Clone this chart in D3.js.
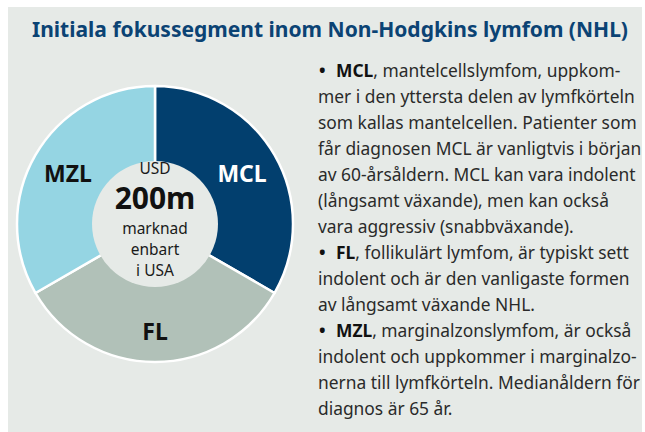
<!DOCTYPE html>
<html>
<head>
<meta charset="utf-8">
<script src="https://cdn.jsdelivr.net/npm/d3@7"></script>
<style>
    html, body { margin: 0; padding: 0; background: #ffffff; }
    svg { display: block; font-family: "Noto Sans", "Open Sans", sans-serif; }
</style>
</head>
<body>
<div id="chart"></div>
<script>
// Chart data
const title = "Initiala fokussegment inom Non-Hodgkins lymfom (NHL)";
const segments = ["MCL", "FL", "MZL"];
const shares = [1, 1, 1];
const segmentColors = ["#023f6e", "#b1c1b8", "#95d5e3"];
const labelColors = ["#ffffff", "#111111", "#111111"];
const centerSmall = ["USD"];
const centerBig = "200m";
const centerBottom = ["marknad", "enbart", "i USA"];

const bulletLabels = ["MCL", "FL", "MZL"];
const bulletFirst = [
    ", mantelcellslymfom, uppkom-",
    ", follikulärt lymfom, är typiskt sett",
    ", marginalzonslymfom, är också"
];
const bulletRest = [
    ["mer i den yttersta delen av lymfkörteln",
     "som kallas mantelcellen. Patienter som",
     "får diagnosen MCL är vanligtvis i början",
     "av 60-årsåldern. MCL kan vara indolent",
     "(långsamt växande), men kan också",
     "vara aggressiv (snabbväxande)."],
    ["indolent och är den vanligaste formen",
     "av långsamt växande NHL."],
    ["indolent och uppkommer i marginalzo-",
     "nerna till lymfkörteln. Medianåldern för",
     "diagnos är 65 år."]
];

const W = 645, H = 432;
const panelColor = "#e6eae7";

const svg = d3.select("#chart").append("svg")
    .attr("width", W)
    .attr("height", H);

drawPanel();
drawTitle();
drawDonut();
drawBullets();

function drawPanel() {
    svg.append("rect")
        .attr("x", 8).attr("y", 7)
        .attr("width", 634).attr("height", H - 7)
        .attr("fill", panelColor);
}

function drawTitle() {
    svg.append("text")
        .attr("x", 32).attr("y", 37)
        .attr("font-size", 21)
        .attr("font-weight", 700)
        .attr("fill", "#0b4374")
        .attr("textLength", 596)
        .attr("lengthAdjust", "spacingAndGlyphs")
        .text(title);
}

function drawDonut() {
    const cx = 155, cy = 224;
    const outerR = 138, innerR = 63;

    const g = svg.append("g").attr("transform", `translate(${cx},${cy})`);

    const pie = d3.pie().value(d => d).sort(null);
    const arcs = pie(shares);

    const arc = d3.arc().innerRadius(0).outerRadius(outerR);
    const labelArc = d3.arc().innerRadius(innerR).outerRadius(outerR);

    g.selectAll(".slice")
        .data(arcs)
        .enter().append("path")
        .attr("class", "slice")
        .attr("d", arc)
        .attr("fill", (d, i) => segmentColors[i])
        .attr("stroke", "#ffffff")
        .attr("stroke-width", 2.5)
        .attr("stroke-linejoin", "round");

    g.append("circle")
        .attr("r", innerR)
        .attr("fill", panelColor);

    g.selectAll(".seg-label")
        .data(arcs)
        .enter().append("text")
        .attr("class", "seg-label")
        .attr("x", d => labelArc.centroid(d)[0])
        .attr("y", (d, i) => labelArc.centroid(d)[1] + (i === 1 ? 15 : 8))
        .attr("text-anchor", "middle")
        .attr("font-size", 23)
        .attr("font-weight", 700)
        .attr("fill", (d, i) => labelColors[i])
        .text((d, i) => segments[i]);

    // centre text
    g.selectAll(".c-small")
        .data(centerSmall)
        .enter().append("text")
        .attr("class", "c-small")
        .attr("x", 0).attr("y", -50)
        .attr("text-anchor", "middle")
        .attr("font-size", 15.5)
        .attr("fill", "#1a1a1a")
        .text(d => d);

    g.append("text")
        .attr("x", 0).attr("y", -15)
        .attr("text-anchor", "middle")
        .attr("font-size", 30)
        .attr("font-weight", 700)
        .attr("fill", "#111111")
        .text(centerBig);

    g.selectAll(".c-bottom")
        .data(centerBottom)
        .enter().append("text")
        .attr("class", "c-bottom")
        .attr("x", 0)
        .attr("y", (d, i) => 9.5 + i * 21)
        .attr("text-anchor", "middle")
        .attr("font-size", 15.5)
        .attr("fill", "#1a1a1a")
        .text(d => d);
}

function drawBullets() {
    const x0 = 318, labelX = 336;
    const lineH = 26;
    let y = 76.5;

    const g = svg.append("g")
        .attr("font-size", 16)
        .attr("fill", "#2a2a2a");

    // fit font size so the widest line matches the reference width
    const probe = g.append("text").text(bulletRest[0][0]);
    const w = probe.node().getComputedTextLength();
    probe.remove();
    const fs = 16 * 317 / w;
    g.attr("font-size", fs);

    bulletLabels.forEach((label, i) => {
        g.append("text")
            .attr("x", x0 + 1).attr("y", y)
            .attr("font-weight", 700)
            .attr("fill", "#111111")
            .text("•");

        const first = g.append("text")
            .attr("x", labelX).attr("y", y);
        first.append("tspan")
            .attr("font-weight", 700)
            .attr("fill", "#111111")
            .text(label);
        first.append("tspan").text(bulletFirst[i]);
        y += lineH;

        bulletRest[i].forEach(line => {
            g.append("text")
                .attr("x", x0).attr("y", y)
                .text(line);
            y += lineH;
        });
    });
}
</script>
</body>
</html>
